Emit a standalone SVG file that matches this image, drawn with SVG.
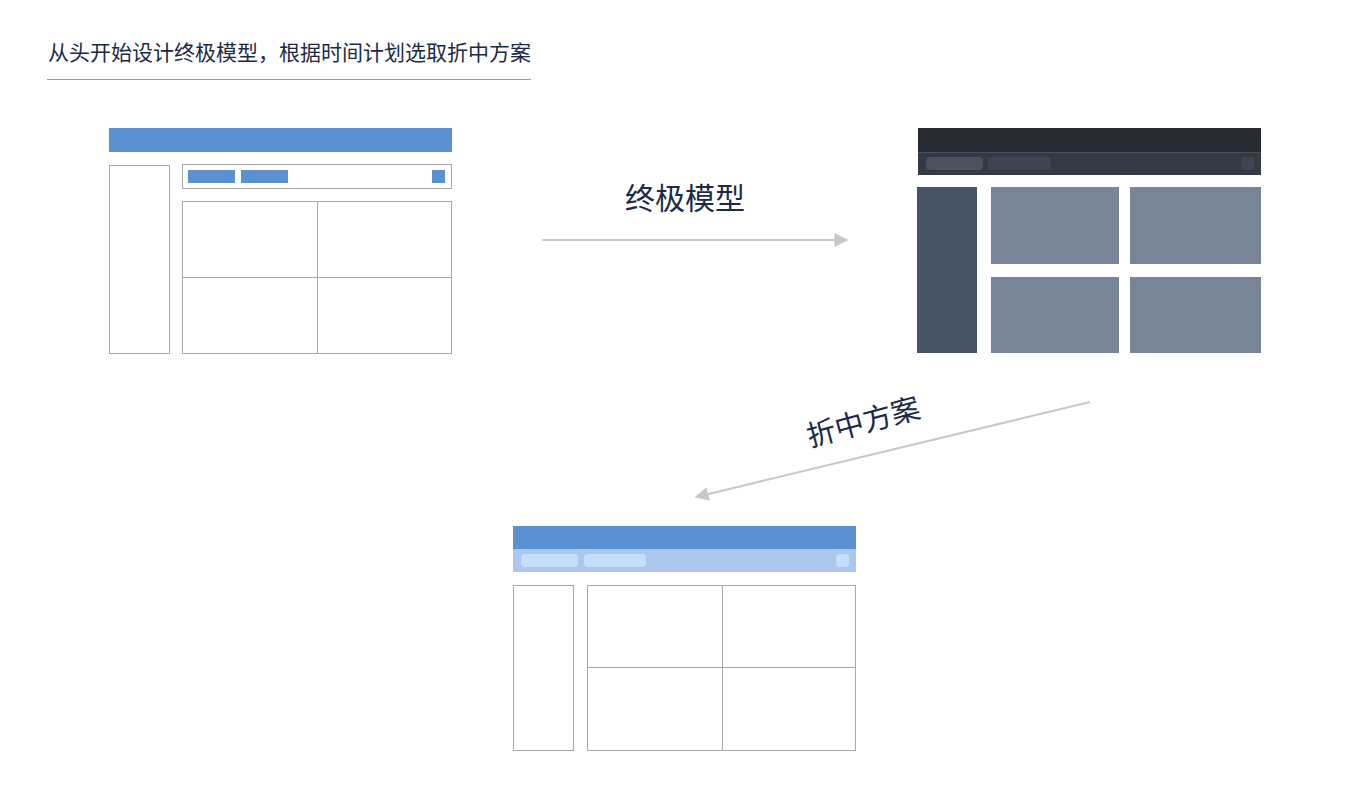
<svg xmlns="http://www.w3.org/2000/svg" width="1370" height="809" viewBox="0 0 1370 809">
<style>
text{font-family:"Noto Sans CJK SC","Noto Sans",sans-serif;fill:#1b2a47}
.wf{fill:#fff;stroke:#a8a8a8;stroke-width:1}
.blue{fill:#5b91d0}
.div{stroke:#a8a8a8;stroke-width:1}
.card{fill:#788498}
.conn{stroke:#c8c8c8;stroke-width:2;fill:none}
</style>
<defs>
<marker id="ah" viewBox="0 0 10 10" refX="9" refY="5" markerWidth="14" markerHeight="14" markerUnits="userSpaceOnUse" orient="auto">
<path d="M0,0 L10,5 L0,10 z" fill="#c8c8c8"/>
</marker>
</defs>
<rect width="1370" height="809" fill="#fff"/>
<g id="title">
<text x="48" y="60" font-size="21">从头开始设计终极模型，根据时间计划选取折中方案</text>
<line x1="47" y1="79.5" x2="531" y2="79.5" stroke="#999" stroke-width="1"/>
</g>
<g id="node-start">
<rect class="blue" x="109" y="128" width="343" height="24"/>
<rect class="wf" x="109.5" y="165.5" width="60" height="188"/>
<rect class="wf" x="182.5" y="164.5" width="269" height="24"/>
<rect class="blue" x="188" y="170" width="47" height="13"/>
<rect class="blue" x="241" y="170" width="47" height="13"/>
<rect class="blue" x="432" y="170" width="13" height="13"/>
<rect class="wf" x="182.5" y="201.5" width="269" height="152"/>
<line class="div" x1="317.5" y1="201" x2="317.5" y2="353"/>
<line class="div" x1="182" y1="277.5" x2="452" y2="277.5"/>
</g>
<g id="node-ultimate">
<rect x="918" y="128" width="343" height="24" fill="#272a30"/>
<rect x="918" y="152" width="343" height="23" fill="#343a44"/>
<line x1="918" y1="152.5" x2="1261" y2="152.5" stroke="#4a505a" stroke-width="1"/>
<rect x="926" y="157" width="57" height="13" rx="4" fill="#4b515d"/>
<rect x="988" y="157" width="63" height="13" rx="4" fill="#3f4550"/>
<rect x="1241" y="157" width="13" height="13" rx="3" fill="#3f4550"/>
<rect x="917" y="187" width="60" height="166" fill="#475467"/>
<rect class="card" x="991" y="187" width="128" height="77"/>
<rect class="card" x="1130" y="187" width="131" height="77"/>
<rect class="card" x="991" y="277" width="128" height="76"/>
<rect class="card" x="1130" y="277" width="131" height="76"/>
</g>
<g id="node-compromise">
<rect class="blue" x="513" y="526" width="343" height="23"/>
<rect x="513" y="549" width="343" height="23" fill="#abc8ec"/>
<rect x="521" y="554" width="57" height="13" rx="4" fill="#c6defa"/>
<rect x="584" y="554" width="62" height="13" rx="4" fill="#c6defa"/>
<rect x="836" y="554" width="13" height="13" rx="3" fill="#c6defa"/>
<rect class="wf" x="513.5" y="585.5" width="60" height="165"/>
<rect class="wf" x="587.5" y="585.5" width="268" height="165"/>
<line class="div" x1="722.5" y1="585" x2="722.5" y2="750"/>
<line class="div" x1="587" y1="667.5" x2="855" y2="667.5"/>
</g>
<g id="connectors">
<line class="conn" x1="542" y1="240" x2="847" y2="240" marker-end="url(#ah)"/>
<line class="conn" x1="1090" y1="402" x2="696" y2="497" marker-end="url(#ah)"/>
</g>
<g id="labels">
<text x="685" y="209" font-size="30" text-anchor="middle">终极模型</text>
<text x="0" y="0" font-size="29" text-anchor="middle" transform="translate(866,432) rotate(-15)">折中方案</text>
</g>
</svg>
